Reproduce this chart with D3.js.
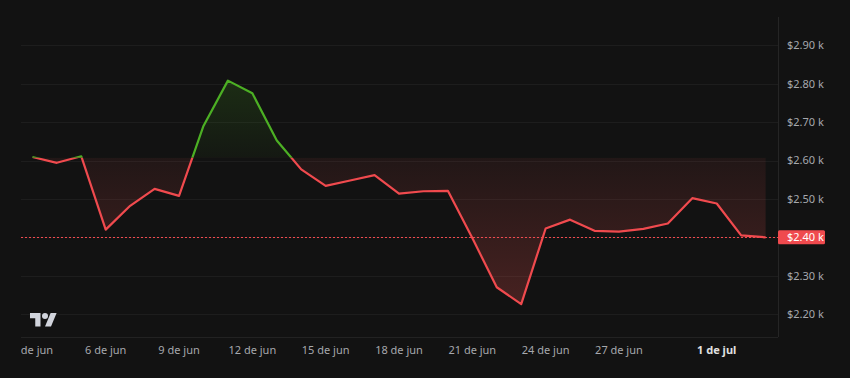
<!DOCTYPE html>
<html><head><meta charset="utf-8">
<script src="https://cdn.jsdelivr.net/npm/d3@7"></script>
<style>
html,body{margin:0;padding:0;background:#121212;}
svg{display:block;}
text{font-family:"Noto Sans","Open Sans",sans-serif;}
</style></head>
<body>
<svg id="chart" width="850" height="378"></svg>
<script>
// ---- data ----
const dates = ["3 jun","4 jun","5 jun","6 jun","7 jun","8 jun","9 jun","10 jun","11 jun","12 jun",
  "13 jun","14 jun","15 jun","16 jun","17 jun","18 jun","19 jun","20 jun","21 jun","22 jun",
  "23 jun","24 jun","25 jun","26 jun","27 jun","28 jun","29 jun","30 jun","1 jul","2 jul","3 jul"];
const prices = [2.609,2.594,2.611,2.420,2.482,2.526,2.508,2.690,2.808,2.775,
  2.652,2.577,2.534,2.548,2.562,2.514,2.520,2.521,2.398,2.270,
  2.226,2.423,2.446,2.417,2.415,2.422,2.436,2.502,2.488,2.405,2.400];
const baselineValue = 2.607;
const lastPrice = 2.40;
const xTickIdx = [0,3,6,9,12,15,18,21,24,28];
const xTickLabels = ["3 de jun","6 de jun","9 de jun","12 de jun","15 de jun","18 de jun","21 de jun","24 de jun","27 de jun","1 de jul"];
const xTickBold = [false,false,false,false,false,false,false,false,false,true];
const yTicks = [2.2,2.3,2.4,2.5,2.6,2.7,2.8,2.9];

// ---- layout ----
const L = 21, R = 778, T = 17, B = 337;
const svg = d3.select("#chart");
svg.append("rect").attr("width",850).attr("height",378).attr("fill","#121212");

const x = d3.scaleLinear().domain([-0.466, 30.507]).range([L, R]);
const y = d3.scaleLinear().domain([2.1404, 2.9737]).range([B, T]);
const fmt = v => "$" + v.toFixed(2) + " k";
const data = prices.map((p,i)=>({i, p}));
const yb = y(baselineValue);

const defs = svg.append("defs");
defs.append("clipPath").attr("id","above").append("rect").attr("x",L).attr("y",T-5).attr("width",R-L).attr("height",yb-T+5);
defs.append("clipPath").attr("id","below").append("rect").attr("x",L).attr("y",yb).attr("width",R-L).attr("height",B-yb+5);
defs.append("clipPath").attr("id","xlab").append("rect").attr("x",L).attr("y",B).attr("width",R-L+60).attr("height",40);

const gG = defs.append("linearGradient").attr("id","gGreen").attr("gradientUnits","userSpaceOnUse")
  .attr("x1",0).attr("x2",0).attr("y1",T).attr("y2",yb);
gG.append("stop").attr("offset",0).attr("stop-color","#4caf20").attr("stop-opacity",0.28);
gG.append("stop").attr("offset",1).attr("stop-color","#4caf20").attr("stop-opacity",0.04);
const gR = defs.append("linearGradient").attr("id","gRed").attr("gradientUnits","userSpaceOnUse")
  .attr("x1",0).attr("x2",0).attr("y1",yb).attr("y2",B);
gR.append("stop").attr("offset",0).attr("stop-color","#ef5350").attr("stop-opacity",0.07);
gR.append("stop").attr("offset",1).attr("stop-color","#ef5350").attr("stop-opacity",0.28);

// grid
svg.append("g").selectAll("line").data(yTicks).join("line")
  .attr("x1",L).attr("x2",R).attr("y1",d=>Math.round(y(d))+0.5).attr("y2",d=>Math.round(y(d))+0.5)
  .attr("stroke","#1d1d1d").attr("stroke-width",1);
// borders
svg.append("line").attr("x1",L).attr("x2",R).attr("y1",B+0.5).attr("y2",B+0.5).attr("stroke","#222").attr("stroke-width",1);
svg.append("line").attr("x1",R+0.5).attr("x2",R+0.5).attr("y1",T).attr("y2",B).attr("stroke","#252525").attr("stroke-width",1);

// areas
const area = d3.area().x(d=>x(d.i)).y0(yb).y1(d=>y(d.p));
const line = d3.line().x(d=>x(d.i)).y(d=>y(d.p));
svg.append("path").datum(data).attr("d",area).attr("fill","url(#gGreen)").attr("clip-path","url(#above)");
svg.append("path").datum(data).attr("d",area).attr("fill","url(#gRed)").attr("clip-path","url(#below)");

// last price dotted line
const yl = Math.round(y(lastPrice)) + 0.5;
svg.append("line").attr("x1",L).attr("x2",R).attr("y1",yl).attr("y2",yl)
  .attr("stroke","#f04a4e").attr("stroke-width",1).attr("stroke-dasharray","2,2");

// lines
svg.append("path").datum(data).attr("d",line).attr("fill","none").attr("stroke","#4caf24")
  .attr("stroke-width",2.2).attr("stroke-linejoin","round").attr("clip-path","url(#above)");
svg.append("path").datum(data).attr("d",line).attr("fill","none").attr("stroke","#f04a4e")
  .attr("stroke-width",2.2).attr("stroke-linejoin","round").attr("clip-path","url(#below)");

// y labels
svg.append("g").selectAll("text").data(yTicks).join("text")
  .attr("x",787).attr("y",d=>y(d)).attr("dy","0.35em")
  .attr("font-size",11).attr("fill","#a6a8ad").text(fmt);

// last price label
svg.append("rect").attr("x",R).attr("y",y(lastPrice)-7).attr("width",47).attr("height",14)
  .attr("rx",1.5).attr("fill","#f04a4e");
svg.append("text").attr("x",787).attr("y",y(lastPrice)).attr("dy","0.35em")
  .attr("font-size",11).attr("fill","#ffffff").text(fmt(lastPrice));

// x labels
svg.append("g").attr("clip-path","url(#xlab)").selectAll("text").data(xTickIdx).join("text")
  .attr("x",d=>x(d)).attr("y",350).attr("dy","0.35em").attr("text-anchor","middle")
  .attr("font-size",11).attr("fill",(d,k)=>xTickBold[k]?"#e0e0e0":"#a6a8ad")
  .attr("font-weight",(d,k)=>xTickBold[k]?"bold":"normal")
  .text((d,k)=>xTickLabels[k]);

// TradingView logo
const logo = svg.append("g").attr("transform","translate(30,310) scale(0.75)").attr("fill","#d1d4dc");
logo.append("path").attr("d","M14 22H7V11H0V4h14v18zM28 22h-8l7.5-18h8L28 22z");
logo.append("circle").attr("cx",20).attr("cy",8).attr("r",4);
</script>
</body></html>
